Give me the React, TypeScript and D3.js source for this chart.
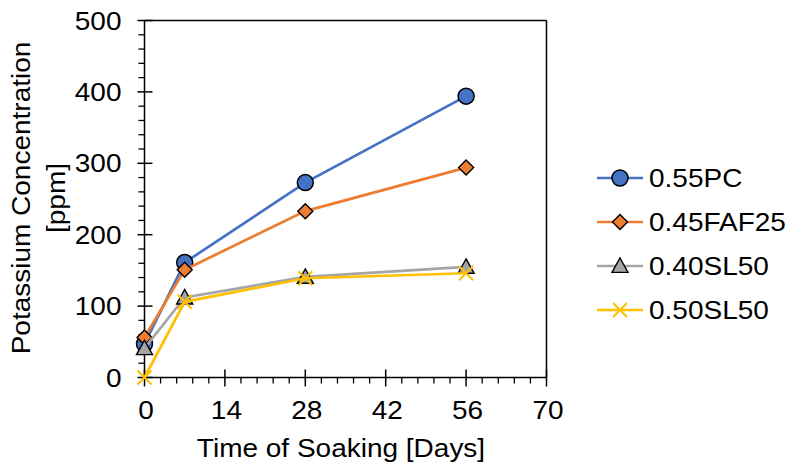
import React from "react";
import * as d3 from "d3";

const days = [0, 7, 28, 56];
const seriesNames = ["0.55PC", "0.45FAF25", "0.40SL50", "0.50SL50"];
const pc055 = [47, 161, 273, 394];
const faf045 = [56, 151, 233, 294];
const sl040 = [41, 112, 141, 155];
const sl050 = [0, 106, 139, 146];
const colors = ["#4472C4", "#ED7D31", "#A5A5A5", "#FFC000"];
const markers = ["circle", "diamond", "triangle", "x"];
const xTicks = [0, 14, 28, 42, 56, 70];
const yTicks = [0, 100, 200, 300, 400, 500];

const W = 788, H = 464;
const L = 144.5, R = 546.5, T = 20.5, B = 377.5;
const FONT = "'Liberation Sans', Arial, sans-serif";
const FS = 25;
const SX = 1.12;

function Txt({ x, y, anchor = "start", rot = 0, dy = "0", children }: any) {
  return (
    <text
      transform={`translate(${x},${y}) rotate(${rot}) scale(${SX},1)`}
      textAnchor={anchor}
      dy={dy}
      fontSize={FS}
      fill="#000"
    >
      {children}
    </text>
  );
}

function Marker({ type, x, y, color }: { type: string; x: number; y: number; color: string }) {
  if (type === "circle") return <circle cx={x} cy={y} r={8} fill={color} stroke="#000" strokeWidth={1.5} />;
  if (type === "diamond") {
    const s = 7.5;
    return <path d={`M${x},${y - s}L${x + s},${y}L${x},${y + s}L${x - s},${y}Z`} fill={color} stroke="#000" strokeWidth={1.4} />;
  }
  if (type === "triangle") {
    const s = 8;
    return <path d={`M${x},${y - s}L${x + s},${y + s * 0.8}L${x - s},${y + s * 0.8}Z`} fill={color} stroke="#000" strokeWidth={1.4} />;
  }
  const s = 7;
  return <path d={`M${x - s},${y - s}L${x + s},${y + s}M${x - s},${y + s}L${x + s},${y - s}`} stroke={color} strokeWidth={2} fill="none" />;
}

export default function App() {
  const x = d3.scaleLinear().domain([0, 70]).range([L, R]);
  const y = d3.scaleLinear().domain([0, 500]).range([B, T]);
  const data = [pc055, faf045, sl040, sl050];
  const line = d3.line<number>().x((_, i) => x(days[i])).y((d) => y(d));
  const yMinor = d3.range(0, 501, 20).filter((v) => v % 100 !== 0);
  const xMinor = d3.range(0, 70.01, 2.8).filter((v) => Math.abs(v / 14 - Math.round(v / 14)) > 0.01);
  const legY = [178, 222, 266, 310];

  return (
    <svg width={W} height={H} style={{ position: "absolute", left: 0, top: 0 }} fontFamily={FONT}>
      <rect width={W} height={H} fill="#fff" />
      <line x1={L} x2={R} y1={T} y2={T} stroke="#000" strokeWidth={1.5} />
      <line x1={R} x2={R} y1={T} y2={B} stroke="#000" strokeWidth={1.5} />
      <line x1={L} x2={L} y1={T} y2={B} stroke="#000" strokeWidth={1.5} />
      <line x1={L} x2={R} y1={B} y2={B} stroke="#000" strokeWidth={1.5} />
      {yMinor.map((v) => (
        <line key={"ym" + v} x1={L - 6} x2={L} y1={y(v)} y2={y(v)} stroke="#000" strokeWidth={1.3} />
      ))}
      {yTicks.map((v) => (
        <g key={"y" + v}>
          <line x1={L - 7} x2={L + 8} y1={y(v)} y2={y(v)} stroke="#000" strokeWidth={1.5} />
          <Txt x={L - 23} y={y(v)} dy="0.36em" anchor="end">{v}</Txt>
        </g>
      ))}
      {xMinor.map((v) => (
        <line key={"xm" + v} x1={x(v)} x2={x(v)} y1={B} y2={B + 6} stroke="#000" strokeWidth={1.3} />
      ))}
      {xTicks.map((v) => (
        <g key={"x" + v}>
          <line x1={x(v)} x2={x(v)} y1={B - 8} y2={B + 9} stroke="#000" strokeWidth={1.5} />
          <Txt x={x(v) + 1.5} y={B + 41} anchor="middle">{v}</Txt>
        </g>
      ))}
      {data.map((vals, si) => (
        <g key={"s" + si}>
          <path d={line(vals) || ""} fill="none" stroke={colors[si]} strokeWidth={2.7} />
          {vals.map((v, i) => (
            <Marker key={i} type={markers[si]} x={x(days[i])} y={y(v)} color={colors[si]} />
          ))}
        </g>
      ))}
      <Txt x={341} y={457} anchor="middle">Time of Soaking [Days]</Txt>
      <Txt x={30} y={198} rot={-90} anchor="middle">Potassium Concentration</Txt>
      <Txt x={65} y={198} rot={-90} anchor="middle">[ppm]</Txt>
      {seriesNames.map((n, i) => (
        <g key={"l" + i}>
          <line x1={597} x2={643} y1={legY[i]} y2={legY[i]} stroke={colors[i]} strokeWidth={2.7} />
          <Marker type={markers[i]} x={620} y={legY[i]} color={colors[i]} />
          <Txt x={649} y={legY[i]} dy="0.36em">{n}</Txt>
        </g>
      ))}
    </svg>
  );
}
